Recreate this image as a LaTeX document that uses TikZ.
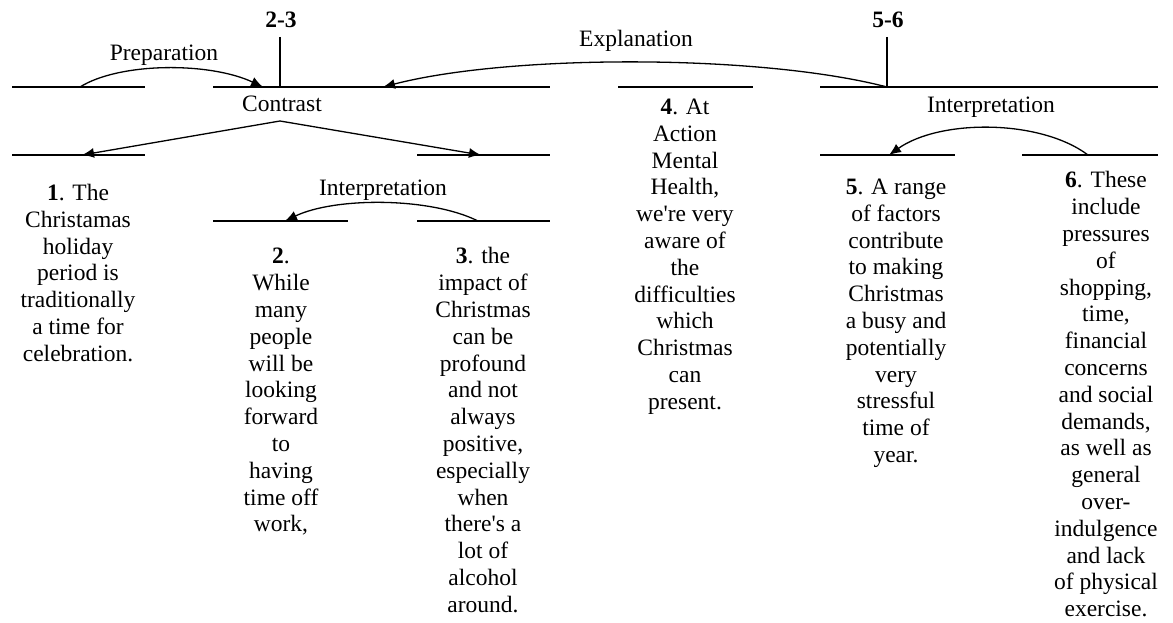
\documentclass[tikz,border=0pt]{standalone}
\usepackage{fontspec}
\setmainfont{Liberation Serif}
\usetikzlibrary{arrows.meta}
\newcommand\unitfont{\rmfamily\fontsize{23.5}{26.8}\selectfont}
\begin{document}
\begin{tikzpicture}[x=1pt,y=-1pt,
  seg/.style={line width=1.7pt},
  tick/.style={line width=1.5pt},
  rel/.style={line width=1.3pt,-{Latex[length=12pt,width=10pt]}},
  lbl/.style={anchor=base,inner sep=0pt,font=\unitfont},
  txt/.style={anchor=north,inner sep=0pt,align=center,font=\unitfont},
]
\useasboundingbox (0,0) rectangle (1173,623);

% span segments, top row
\coordinate (a1) at (12,87);   \coordinate (a2) at (145,87);
\coordinate (b1) at (213,87);  \coordinate (b2) at (550,87);
\coordinate (c1) at (618,87);  \coordinate (c2) at (753,87);
\coordinate (d1) at (820,87);  \coordinate (d2) at (1158,87);
% second row
\coordinate (e1) at (12,155);  \coordinate (e2) at (145,155);
\coordinate (f1) at (417,155); \coordinate (f2) at (550,155);
\coordinate (i1) at (820,155); \coordinate (i2) at (955,155);
\coordinate (j1) at (1022,155);\coordinate (j2) at (1158,155);
% third row
\coordinate (g1) at (213,221); \coordinate (g2) at (348,221);
\coordinate (h1) at (417,221); \coordinate (h2) at (550,221);

\foreach \s in {a,b,c,d,e,f,g,h,i,j} \draw[seg] (\s1) -- (\s2);

% span headers
\node[lbl,font=\unitfont\bfseries] (s23) at (281,28) {2-3};
\node[lbl,font=\unitfont\bfseries] (s56) at (888,28) {5-6};
\coordinate (t23top) at (280,37); \coordinate (t23bot) at (280,87);
\coordinate (t56top) at (887,37); \coordinate (t56bot) at (887,87);
\draw[tick] (t23top) -- (t23bot);
\draw[tick] (t56top) -- (t56bot);

% relation labels
\node[lbl] (prep) at (164,61) {Preparation};
\node[lbl] (expl) at (636,47) {Explanation};
\node[lbl] (contr) at (282,112) {Contrast};
\node[lbl] (interpR) at (991,113) {Interpretation};
\node[lbl] (interpM) at (383,196) {Interpretation};

% relation end points
\coordinate (prepS) at (80,87);   \coordinate (prepT) at (263,87);
\coordinate (explS) at (887,87);  \coordinate (explT) at (383,87);
\coordinate (conR) at (280,121);
\coordinate (conL) at (82,155);   \coordinate (conRt) at (481,155);
\coordinate (intMS) at (478,221); \coordinate (intMT) at (285,221);
\coordinate (intRS) at (1088,155);\coordinate (intRT) at (889,155);

\draw[rel] (prepS) .. controls (120,62) and (210,62) .. (prepT);
\draw[rel] (explS) .. controls (760,54) and (510,54) .. (explT);
\draw[rel] (conR) -- (conL);
\draw[rel] (conR) -- (conRt);
\draw[rel] (intMS) .. controls (430,197) and (335,197) .. (intMT);
\draw[rel] (intRS) .. controls (1040,119) and (940,119) .. (intRT);

% elementary units
\node[txt] (u1) at (78,181.5) {\strut\textbf{1}. The\\Christamas\\holiday\\period is\\traditionally\\a time for\\celebration.};
\node[txt] (u2) at (281,245) {\strut\textbf{2}.\\While\\many\\people\\will be\\looking\\forward\\to\\having\\time off\\work,};
\node[txt] (u3) at (483,245) {\strut\textbf{3}. the\\impact of\\Christmas\\can be\\profound\\and not\\always\\positive,\\especially\\when\\there\textquotesingle s a\\lot of\\alcohol\\around.};
\node[txt] (u4) at (685,95.5) {\strut\textbf{4}. At\\Action\\Mental\\Health,\\we\textquotesingle re very\\aware of\\the\\difficulties\\which\\Christmas\\can\\present.};
\node[txt] (u5) at (896,175.5) {\strut\textbf{5}. A range\\of factors\\contribute\\to making\\Christmas\\a busy and\\potentially\\very\\stressful\\time of\\year.};
\node[txt] (u6) at (1106,169) {\strut\textbf{6}. These\\include\\pressures\\of\\shopping,\\time,\\financial\\concerns\\and social\\demands,\\as well as\\general\\over-\\indulgence\\and lack\\of physical\\exercise.};
\end{tikzpicture}
\end{document}
